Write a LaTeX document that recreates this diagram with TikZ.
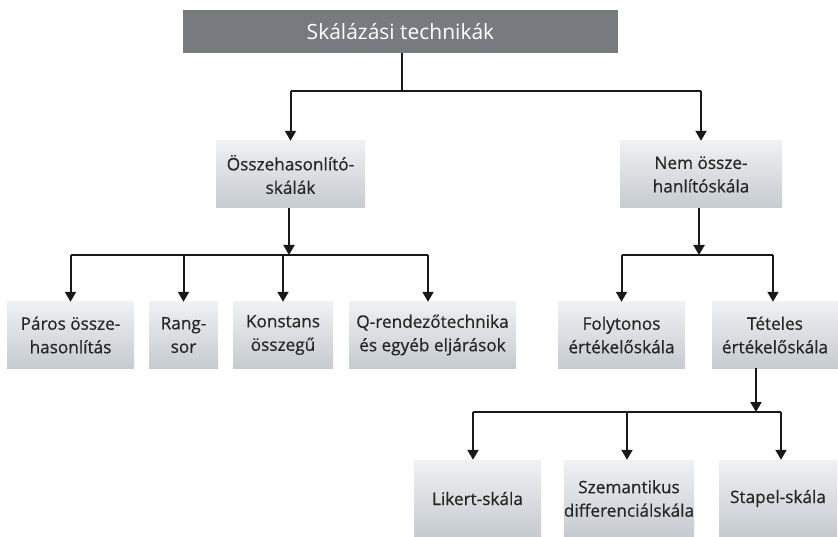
\documentclass[tikz,border=0pt]{standalone}
\usepackage{fontspec}
\setmainfont{Open Sans}
\newfontfamily\boxfont[FakeBold=0.6]{Open Sans}
\usetikzlibrary{arrows.meta}
\definecolor{topgray}{HTML}{777B7F}
\definecolor{boxtop}{HTML}{EFF1F3}
\definecolor{boxbot}{HTML}{C6CBD0}
\definecolor{txt}{HTML}{262626}
\tikzset{
  x=1pt,y=-1pt,
  conn/.style={line width=2pt,draw=black!90},
  arr/.style={conn,-{Triangle[width=11pt,length=10pt]}},
  box/.style={draw=none,top color=boxtop,bottom color=boxbot,inner sep=0pt,align=center,
    text=txt,font=\boxfont\fontsize{17.2}{23.5}\selectfont},
  headbox/.style={fill=topgray,inner sep=0pt,text=white,font=\fontsize{21}{24}\selectfont}
}
\begin{document}
\begin{tikzpicture}
\useasboundingbox (0,0) rectangle (838,537);
% top
\node[headbox,minimum width=435pt,minimum height=43pt] (top) at (400.5,31.5) {Skálázási technikák};
% level 1
\node[box,minimum width=149pt,minimum height=67pt] (A) at (290.5,174.5) {Összehasonlító-\\skálák};
\node[box,minimum width=162pt,minimum height=67pt] (B) at (701,174.5) {Nem össze-\\hanlítóskála};
% level 2
\node[box,minimum width=127pt,minimum height=66pt] (P) at (70.5,335) {Páros össze-\\hasonlítás};
\node[box,minimum width=69pt,minimum height=66pt] (R) at (183.5,335) {Rang-\\sor};
\node[box,minimum width=100pt,minimum height=66pt] (K) at (283,335) {Konstans\\összegű};
\node[box,minimum width=167pt,minimum height=66pt] (Q) at (432.5,335) {Q-rendezőtechnika\\és egyéb eljárások};
\node[box,minimum width=127pt,minimum height=66pt] (F) at (621.5,335) {Folytonos\\értékelőskála};
\node[box,minimum width=126pt,minimum height=66pt] (T) at (775,335) {Tételes\\értékelőskála};
% level 3
\node[box,minimum width=127pt,minimum height=77pt] (L) at (477.5,498.5) {Likert-skála};
\node[box,minimum width=126pt,minimum height=77pt] (S) at (629,498.5) {Szemantikus\\differenciálskála};
\node[box,minimum width=118pt,minimum height=77pt] (St) at (778,498.5) {Stapel-skála};
% junctions
\coordinate (j0) at (402,91);
\coordinate (j1) at (289,255);
\coordinate (j2) at (699,255);
\coordinate (j3) at (756,412);
% connectors top
\draw[conn] (top.south -| j0) -- (j0);
\draw[conn] (A.north |- j0) -- (B.north |- j0);
\draw[arr] (A.north |- j0) -- (A.north);
\draw[arr] (B.north |- j0) -- (B.north);
% left branch
\draw[arr] (A.south -| j1) -- (j1);
\draw[conn] (P.north |- j1) -- ([xshift=-4.5pt]Q.north |- j1);
\draw[arr] (P.north |- j1) -- (P.north);
\draw[arr] (R.north |- j1) -- (R.north);
\draw[arr] (K.north |- j1) -- (K.north);
\draw[arr] ([xshift=-4.5pt]Q.north |- j1) -- ([xshift=-4.5pt]Q.north);
% right branch
\draw[arr] (B.south -| j2) -- (j2);
\draw[conn] (F.north |- j2) -- ([xshift=-2pt]T.north |- j2);
\draw[arr] (F.north |- j2) -- (F.north);
\draw[arr] ([xshift=-2pt]T.north |- j2) -- ([xshift=-2pt]T.north);
% bottom branch
\draw[arr] (T.south -| j3) -- (j3);
\draw[conn] ([xshift=-4.5pt]L.north |- j3) -- ([xshift=3pt]St.north |- j3);
\draw[arr] ([xshift=-4.5pt]L.north |- j3) -- ([xshift=-4.5pt]L.north);
\draw[arr] ([xshift=-2pt]S.north |- j3) -- ([xshift=-2pt]S.north);
\draw[arr] ([xshift=3pt]St.north |- j3) -- ([xshift=3pt]St.north);
\end{tikzpicture}
\end{document}
